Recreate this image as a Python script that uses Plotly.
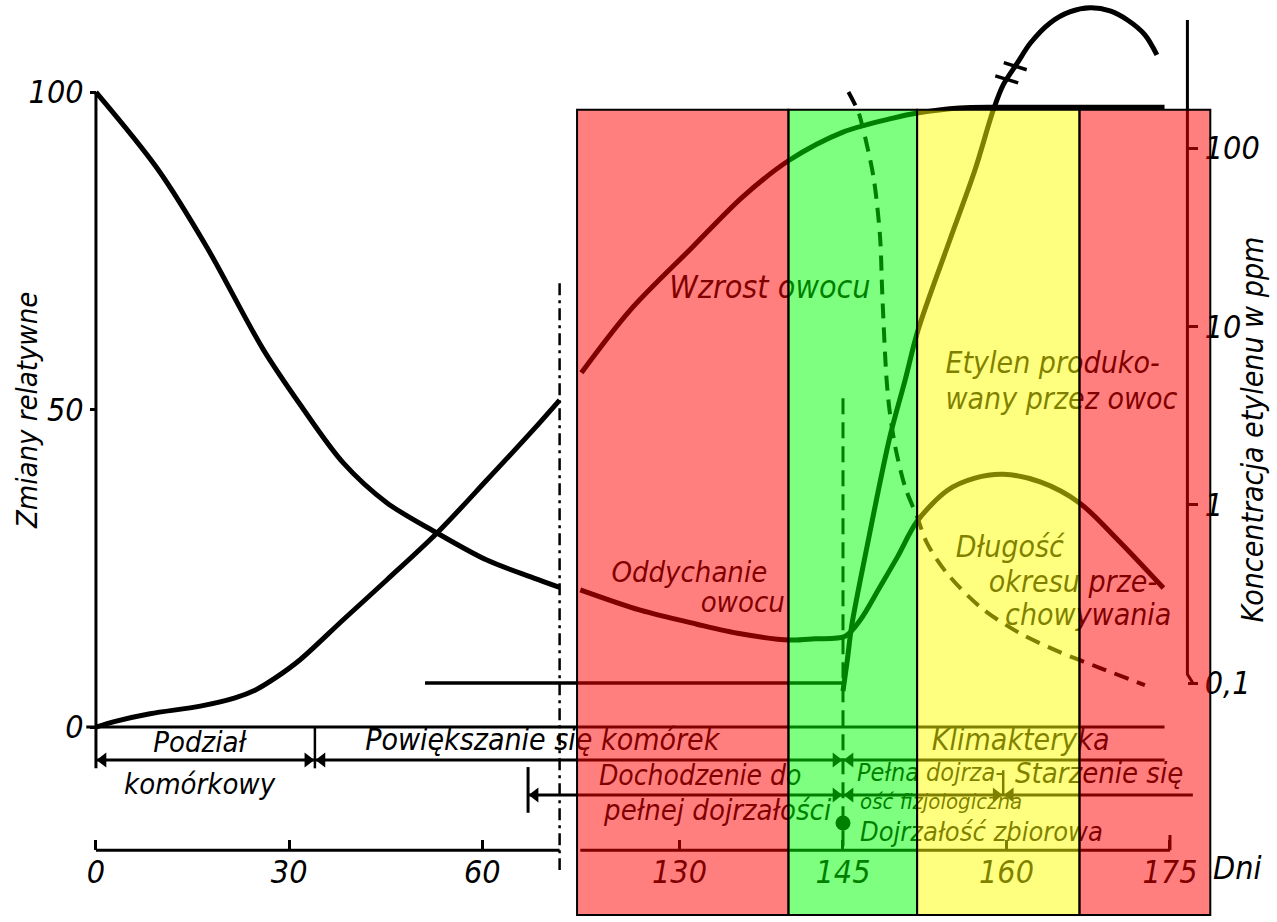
import numpy as np
import plotly.graph_objects as go

FONT = "Liberation Sans Narrow, DejaVu Sans Condensed, sans-serif"
INK = "black"

# ---------------------------------------------------------------------------
# Broken day axis: early development (0-72 d) and ripening (119-180 d).
# The ripening part is drawn wider than the early part.
LEFT_END = 72.0
RIGHT_START = 119.0
STRETCH = 1.6925


def u(days):
    d = np.asarray(days, dtype=float)
    return np.where(d <= LEFT_END, d, LEFT_END + (d - RIGHT_START) * STRETCH)


X_RANGE = [-14.9, 183.4]      # axis units (after the break transform)
Y_RANGE = [-30.7, 114.5]      # relative changes
LOG_RANGE = [-2.34, 2.83]     # log10 ppm

# ---------------------------------------------------------------------------
# Data
day_ticks = [0, 30, 60, 130, 145, 160, 175]
day_tick_text = ["0", "30", "60", "130", "145", "160", "175"]
rel_ticks = [0, 50, 100]
ppm_ticks = [0.1, 1, 10, 100]
ppm_tick_text = ["0,1", "1", "10", "100"]

# fruit growth (relative)
growth_early_day = [0, 3.0, 8.4, 16.2, 21.6, 24.7, 27.8, 31.7, 38.4, 45.2, 53.0, 60.7, 67.9, 72.0]
growth_early_val = [0, 0.9, 2.1, 3.3, 4.6, 5.8, 7.7, 10.6, 16.9, 23.2, 30.6, 38.9, 46.8, 51.5]
growth_late_day = [121.0, 125.5, 131.2, 135.8, 140.1, 145.0, 149.6, 151.8, 155.7, 159.4, 174.5]
growth_late_val = [55.8, 65.7, 75.6, 83.5, 89.3, 93.7, 95.9, 96.7, 97.5, 97.6, 97.6]

# fruit respiration (relative)
resp_early_day = [0, 9.5, 17.2, 25.9, 31.7, 38.4, 45.2, 52.9, 60.7, 67.9, 72.0]
resp_early_val = [100, 88.0, 75.6, 59.6, 50.8, 41.6, 35.3, 30.6, 26.3, 23.5, 22.0]
resp_late_day = [120.9, 126.4, 131.6, 135.6, 140.1, 142.4, 145.2, 146.6, 148.4, 150.0,
                 151.8, 154.6, 157.1, 159.7, 163.1, 166.7, 170.2, 174.4]
resp_late_val = [21.6, 18.4, 16.2, 14.7, 13.7, 13.9, 14.3, 16.9, 22.1, 26.8,
                 32.4, 37.3, 39.2, 39.8, 38.6, 35.3, 29.5, 21.9]

# storage life (relative, dashed)
storage_day = [145.5, 146.4, 146.8, 147.8, 148.4, 148.6, 149.0, 149.3, 149.8, 150.7,
               151.8, 152.7, 154.5, 157.6, 161.2, 164.9, 168.6, 172.7]
storage_val = [100.0, 96.9, 94.5, 86.6, 77.2, 68.4, 54.7, 49.5, 44.1, 37.8,
               33.1, 29.0, 24.3, 18.9, 14.8, 11.8, 9.3, 6.6]

# ethylene produced by the fruit (ppm, log scale)
ethylene_base_day = [51.1, 145.0]
ethylene_base_ppm = [0.1, 0.1]
ethylene_day = [145.0, 145.4, 145.8, 147.2, 149.3, 150.7, 151.9, 154.8, 157.1, 158.8,
                159.7, 161.0, 162.2, 164.0, 165.8, 167.7, 169.5, 171.1, 172.7, 173.8]
ethylene_ppm = [0.09, 0.135, 0.21, 0.58, 2.4, 5.0, 9.6, 30.5, 75, 164,
                226, 300, 388, 503, 580, 611, 587, 522, 431, 333]
ETHYLENE_BREAK_AFTER = 10   # index where the "//" break symbol sits

# highlighted ripening phases
band_start = [120.6, 140.0, 151.8, 166.7]
band_end = [140.0, 151.8, 166.7, 178.7]
band_fill = ["rgba(255,0,0,0.5)", "rgba(0,255,0,0.5)",
             "rgba(255,255,0,0.5)", "rgba(255,0,0,0.5)"]
BAND_BOTTOM, BAND_TOP = -29.6, 97.2

# development stages (day boundaries)
growth_stage_bounds = [0, 34, 145, 174.5]     # cell division | enlargement | climacteric
maturity_stage_bounds = [67.1, 145, 159.7, 177.1]  # maturing | phys. maturity | senescence
harvest_window = [145, 175]

# timeline rows (relative-axis units below zero)
ROW_A, ROW_B, AXIS_ROW, HARVEST_ROW = -5.2, -10.7, -19.4, -15.1
BREAK_DAY = 72.0
ETH_AXIS_DAY = 176.6

fig = go.Figure()


def add_line(x, y, width=3.0, dash=None, yaxis="y", smooth=False, color=INK):
    fig.add_trace(go.Scatter(
        x=u(x), y=y, mode="lines", yaxis=yaxis, hoverinfo="skip", showlegend=False,
        line=dict(color=color, width=width, dash=dash,
                  shape="spline" if smooth else "linear", smoothing=0.9)))


# axes drawn as lines
add_line([0, 0], [-6.5, 100], width=3)                      # left value axis
add_line([-1.5, growth_stage_bounds[-1]], [0, 0], width=3)  # zero line
add_line([0, LEFT_END], [AXIS_ROW, AXIS_ROW], width=3)      # day scale, early part
add_line([120.9, harvest_window[1]], [AXIS_ROW, AXIS_ROW], width=3)  # day scale, late part
add_line([harvest_window[1]] * 2, [AXIS_ROW + 2.4, AXIS_ROW], width=3)
add_line([BREAK_DAY, BREAK_DAY], [69.9, -22.5], width=2.5, dash="12px,5px,3px,5px")
add_line([ETH_AXIS_DAY, ETH_AXIS_DAY, ETH_AXIS_DAY + 0.5], [522, 0.112, 0.1],
         width=3, yaxis="y2")

# stage timeline rows
add_line([growth_stage_bounds[0], growth_stage_bounds[-1]], [ROW_A, ROW_A], width=3)
add_line([maturity_stage_bounds[0], maturity_stage_bounds[-1]], [ROW_B, ROW_B], width=3)
add_line([growth_stage_bounds[1]] * 2, [0, -6.5], width=2.5)
add_line([maturity_stage_bounds[0]] * 2, [-6.3, -13.5], width=3)
add_line([maturity_stage_bounds[2]] * 2, [-6.8, ROW_B], width=2.5)
add_line([145, 145], [51.8, AXIS_ROW], width=3, dash="16px,8px")

# arrow heads at stage boundaries
tip = 1.1
arrow_x, arrow_y, arrow_sym = [], [], []
arrow_x.append(u(growth_stage_bounds[0]) + tip); arrow_y.append(ROW_A); arrow_sym.append("triangle-left")
arrow_x.append(u(maturity_stage_bounds[0]) + tip); arrow_y.append(ROW_B); arrow_sym.append("triangle-left")
for b, row in [(growth_stage_bounds[1], ROW_A), (growth_stage_bounds[2], ROW_A),
               (maturity_stage_bounds[1], ROW_B), (maturity_stage_bounds[2], ROW_B)]:
    arrow_x += [u(b) - tip, u(b) + tip]
    arrow_y += [row, row]
    arrow_sym += ["triangle-right", "triangle-left"]
fig.add_trace(go.Scatter(x=arrow_x, y=arrow_y, mode="markers", hoverinfo="skip",
                         showlegend=False,
                         marker=dict(symbol=arrow_sym, size=13, color=INK, line=dict(width=0))))
fig.add_trace(go.Scatter(x=u([harvest_window[0]]), y=[HARVEST_ROW], mode="markers",
                         hoverinfo="skip", showlegend=False,
                         marker=dict(symbol="circle", size=15, color=INK)))

# curves
add_line(growth_early_day, growth_early_val, width=5, smooth=True)
add_line(growth_late_day, growth_late_val, width=5, smooth=True)
add_line(resp_early_day, resp_early_val, width=5, smooth=True)
add_line(resp_late_day, resp_late_val, width=5, smooth=True)
add_line(storage_day, storage_val, width=4, dash="15px,9px", smooth=True)
add_line(ethylene_base_day, ethylene_base_ppm, width=3.5, yaxis="y2")
add_line(ethylene_day, ethylene_ppm, width=5, yaxis="y2", smooth=True)

# "//" break symbol on the ethylene curve
i = ETHYLENE_BREAK_AFTER
lg0, lg1 = np.log10(ethylene_ppm[i]), np.log10(ethylene_ppm[i + 1])
for f in (0.25, 0.85):
    dm = ethylene_day[i] + f * (ethylene_day[i + 1] - ethylene_day[i])
    lm = lg0 + f * (lg1 - lg0)
    add_line([dm - 1.05, dm + 1.05], [10 ** (lm + 0.02), 10 ** (lm - 0.02)],
             width=3.5, yaxis="y2")

# in-plot labels (text traces so that the phase bands tint them)
labels = [
    ("Wzrost owocu", 138.3, 68.8, 32, "middle center"),
    ("Etylen produko-", 154.4, 57.0, 30, "middle right"),
    ("wany przez owoc", 154.4, 51.2, 30, "middle right"),
    ("Oddychanie", 130.9, 24.0, 29, "middle center"),
    ("owocu", 135.8, 19.3, 29, "middle center"),
    ("Długość", 160.3, 27.9, 30, "middle center"),
    ("okresu prze-", 166.1, 22.4, 30, "middle center"),
    ("chowywania", 167.5, 17.2, 30, "middle center"),
    ("Podział", 16.1, -2.8, 29, "middle center"),
    ("komórkowy", 16.1, -9.45, 29, "middle center"),
    ("Powiększanie się komórek", 41.8, -2.5, 30, "middle right"),
    ("Klimakteryka", 161.3, -2.4, 30, "middle center"),
    ("Dochodzenie do", 131.9, -8.0, 28, "middle center"),
    ("pełnej dojrzałości", 133.5, -13.5, 29, "middle center"),
    ("Pełna dojrza-", 153.0, -7.5, 25, "middle center"),
    ("ość fizjologiczna", 154.0, -12.1, 22, "middle center"),
    ("Starzenie się", 168.5, -7.6, 29, "middle center"),
    ("Dojrzałość zbiorowa", 157.7, -16.9, 27, "middle center"),
]
for text, d, v, size, pos in labels:
    fig.add_trace(go.Scatter(
        x=u([d]), y=[v], mode="text", text=[text], textposition=pos,
        hoverinfo="skip", showlegend=False,
        textfont=dict(family=FONT, size=size, color=INK, style="italic")))

# ripening phase bands drawn over everything
for x0, x1, col in zip(band_start, band_end, band_fill):
    fig.add_shape(type="rect", xref="x", yref="y", x0=float(u(x0)), x1=float(u(x1)),
                  y0=BAND_BOTTOM, y1=BAND_TOP, fillcolor=col,
                  line=dict(color=INK, width=2), layer="above")

span_x = X_RANGE[1] - X_RANGE[0]
span_y = Y_RANGE[1] - Y_RANGE[0]
tick_font = dict(family=FONT, size=32, color=INK, style="italic")

fig.update_layout(
    width=1277, height=922,
    margin=dict(l=0, r=0, t=0, b=0),
    paper_bgcolor="white", plot_bgcolor="white",
    showlegend=False,
    xaxis=dict(range=X_RANGE, domain=[0, 1], anchor="free",
               position=(AXIS_ROW - Y_RANGE[0]) / span_y,
               showgrid=False, zeroline=False, showline=False,
               tickmode="array", tickvals=list(u(day_ticks)), ticktext=day_tick_text,
               ticks="inside", ticklen=10, tickwidth=3, tickcolor=INK,
               tickfont=tick_font),
    yaxis=dict(range=Y_RANGE, domain=[0, 1], anchor="free",
               position=(float(u(0)) - X_RANGE[0]) / span_x,
               showgrid=False, zeroline=False, showline=False,
               tickmode="array", tickvals=rel_ticks,
               ticks="outside", ticklen=6, tickwidth=3, tickcolor=INK,
               tickfont=tick_font),
    yaxis2=dict(type="log", range=LOG_RANGE, domain=[0, 1], overlaying="y",
                anchor="free", side="right",
                position=(float(u(ETH_AXIS_DAY)) - X_RANGE[0]) / span_x,
                showgrid=False, zeroline=False, showline=False,
                tickmode="array", tickvals=ppm_ticks, ticktext=ppm_tick_text,
                ticks="outside", ticklen=10, tickwidth=3, tickcolor=INK,
                tickfont=tick_font),
    annotations=[
        dict(text="Zmiany relatywne", xref="paper", yref="paper", x=0.021, y=0.555,
             xanchor="center", yanchor="middle",
             textangle=-90, showarrow=False,
             font=dict(family=FONT, size=29, color=INK, style="italic")),
        dict(text="Koncentracja etylenu w ppm", xref="paper", yref="paper",
             x=0.981, y=0.534, xanchor="center", yanchor="middle",
             textangle=-90, showarrow=False,
             font=dict(family=FONT, size=30, color=INK, style="italic")),
        dict(text="Dni", xref="paper", yref="paper", x=0.969, y=0.059,
             xanchor="center", yanchor="middle",
             showarrow=False, font=dict(family=FONT, size=32, color=INK, style="italic")),
    ],
)

fig.write_html("out.html")
